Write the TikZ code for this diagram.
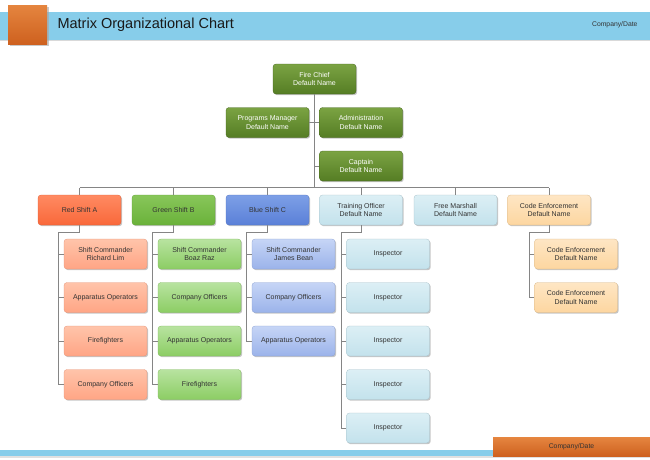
\documentclass[tikz,border=0pt]{standalone}
\usepackage{fontspec}
\setmainfont{Liberation Sans}
\usetikzlibrary{shadows}
\definecolor{hdrblue}{HTML}{87CDEA}
\definecolor{orgA}{HTML}{E5853F}
\definecolor{orgB}{HTML}{CE611F}
\definecolor{dgA}{HTML}{7BA343}
\definecolor{dgB}{HTML}{557D24}
\definecolor{redA}{HTML}{FF8A62}
\definecolor{redB}{HTML}{F9683A}
\definecolor{grnA}{HTML}{88C65A}
\definecolor{grnB}{HTML}{6AB23A}
\definecolor{bluA}{HTML}{7D9FE6}
\definecolor{bluB}{HTML}{5A80D8}
\definecolor{lbA}{HTML}{DCEFF5}
\definecolor{lbB}{HTML}{C3E2EC}
\definecolor{ceA}{HTML}{FEE6C4}
\definecolor{ceB}{HTML}{FDD6A0}
\definecolor{lrA}{HTML}{FFC4AA}
\definecolor{lrB}{HTML}{FFA585}
\definecolor{lgA}{HTML}{B8E3A0}
\definecolor{lgB}{HTML}{8CCD64}
\definecolor{lbuA}{HTML}{C6D5F6}
\definecolor{lbuB}{HTML}{9BB3EA}
\definecolor{txt}{HTML}{333333}
\definecolor{conncol}{HTML}{858585}
\tikzset{
  box/.style={rectangle, rounded corners=3pt, minimum width=83pt, minimum height=30pt,
    inner sep=1pt, align=center, font=\fontsize{7}{8.5}\selectfont, text=txt,
    draw=black!25, line width=0.3pt,
    drop shadow={shadow xshift=1.2pt, shadow yshift=-1.2pt, fill=black!45, opacity=0.5}},
  dgreen/.style={box, top color=dgA, bottom color=dgB, text=white, draw=dgB!80!black},
  redbox/.style={box, top color=redA, bottom color=redB, draw=redB!90!black},
  grnbox/.style={box, top color=grnA, bottom color=grnB, draw=grnB!90!black},
  blubox/.style={box, top color=bluA, bottom color=bluB, draw=bluB!90!black},
  lbbox/.style={box, top color=lbA, bottom color=lbB, draw=lbB!85!black},
  cebox/.style={box, top color=ceA, bottom color=ceB, draw=ceB!85!black},
  lrbox/.style={box, top color=lrA, bottom color=lrB, draw=lrB!90!black},
  lgbox/.style={box, top color=lgA, bottom color=lgB, draw=lgB!90!black},
  lbubox/.style={box, top color=lbuA, bottom color=lbuB, draw=lbuB!90!black},
  conn/.style={draw=conncol, line width=0.8pt},
}
\begin{document}
\begin{tikzpicture}[x=1pt,y=-1pt]
\useasboundingbox (0,0) rectangle (650,459);
% header
\fill[black!15] (0,39) rectangle (650,41);
\fill[hdrblue] (0,12) rectangle (650,39.5);
\fill[black!35, opacity=0.6] (9.5,6.5) rectangle (48.5,45.5);
\shade[top color=orgA, bottom color=orgB] (8,5) rectangle (47,44);
\node[anchor=west, font=\fontsize{14.5}{16}\selectfont, text=black!90] (title) at (54,25) {Matrix Organizational Chart};
\node[anchor=east, font=\fontsize{6.8}{7.5}\selectfont, text=txt] (cdtop) at (641,25) {Company/Date};
% footer
\fill[hdrblue] (0,450) rectangle (493,456);
\fill[black!12] (0,456) rectangle (650,457.5);
\shade[top color=orgA, bottom color=orgB] (493,437.5) rectangle (650,456);
\node[font=\fontsize{6.8}{7.5}\selectfont, text=txt] (cdbot) at (571.5,446.5) {Company/Date};

% top nodes
\node[dgreen] (chief) at (314.5,79) {Fire Chief\\Default Name};
\node[dgreen] (prog) at (267.5,122.5) {Programs Manager\\Default Name};
\node[dgreen] (admin) at (361,122.5) {Administration\\Default Name};
\node[dgreen] (capt) at (361,166) {Captain\\Default Name};

% row
\node[redbox] (red) at (79.5,210) {Red Shift A};
\node[grnbox] (grn) at (173.5,210) {Green Shift B};
\node[blubox] (blu) at (267.5,210) {Blue Shift C};
\node[lbbox] (train) at (361,210) {Training Officer\\Default Name};
\node[lbbox] (free) at (455.5,210) {Free Marshall\\Default Name};
\node[cebox] (code) at (549,210) {Code Enforcement\\Default Name};

% red children
\node[lrbox] (r1) at (105.5,254) {Shift Commander\\Richard Lim};
\node[lrbox] (r2) at (105.5,297.5) {Apparatus Operators};
\node[lrbox] (r3) at (105.5,341) {Firefighters};
\node[lrbox] (r4) at (105.5,384.5) {Company Officers};
% green children
\node[lgbox] (g1) at (199.5,254) {Shift Commander\\Boaz Raz};
\node[lgbox] (g2) at (199.5,297.5) {Company Officers};
\node[lgbox] (g3) at (199.5,341) {Apparatus Operators};
\node[lgbox] (g4) at (199.5,384.5) {Firefighters};
% blue children
\node[lbubox] (b1) at (293.5,254) {Shift Commander\\James Bean};
\node[lbubox] (b2) at (293.5,297.5) {Company Officers};
\node[lbubox] (b3) at (293.5,341) {Apparatus Operators};
% training children
\node[lbbox] (t1) at (388,254) {Inspector};
\node[lbbox] (t2) at (388,297.5) {Inspector};
\node[lbbox] (t3) at (388,341) {Inspector};
\node[lbbox] (t4) at (388,384.5) {Inspector};
\node[lbbox] (t5) at (388,428) {Inspector};
% code children
\node[cebox] (c1) at (576,254) {Code Enforcement\\Default Name};
\node[cebox] (c2) at (576,297.5) {Code Enforcement\\Default Name};

% connectors
\coordinate (bus) at (0,187.5);
\draw[conn] (chief.south) -- (chief.south |- bus);
\draw[conn] (prog.east) -- (admin.west);
\draw[conn] (chief.south |- capt.west) -- (capt.west);
\draw[conn] (red.north |- bus) -- (code.north |- bus);
\foreach \n in {red,grn,blu,train,free,code}
  \draw[conn] (\n.north) -- (\n.north |- bus);
\coordinate (rA) at (58,232);
\coordinate (rB) at (152,232);
\coordinate (rC) at (246.5,232);
\coordinate (rT) at (341,232);
\coordinate (rE) at (529,232);
\draw[conn] (red.south) |- (rA) |- (r4.west);
\foreach \n in {r1,r2,r3} \draw[conn] (rA |- \n.west) -- (\n.west);
\draw[conn] (grn.south) |- (rB) |- (g4.west);
\foreach \n in {g1,g2,g3} \draw[conn] (rB |- \n.west) -- (\n.west);
\draw[conn] (blu.south) |- (rC) |- (b3.west);
\foreach \n in {b1,b2} \draw[conn] (rC |- \n.west) -- (\n.west);
\draw[conn] (train.south) |- (rT) |- (t5.west);
\foreach \n in {t1,t2,t3,t4} \draw[conn] (rT |- \n.west) -- (\n.west);
\draw[conn] (code.south) |- (rE) |- (c2.west);
\draw[conn] (rE |- c1.west) -- (c1.west);
\end{tikzpicture}
\end{document}
